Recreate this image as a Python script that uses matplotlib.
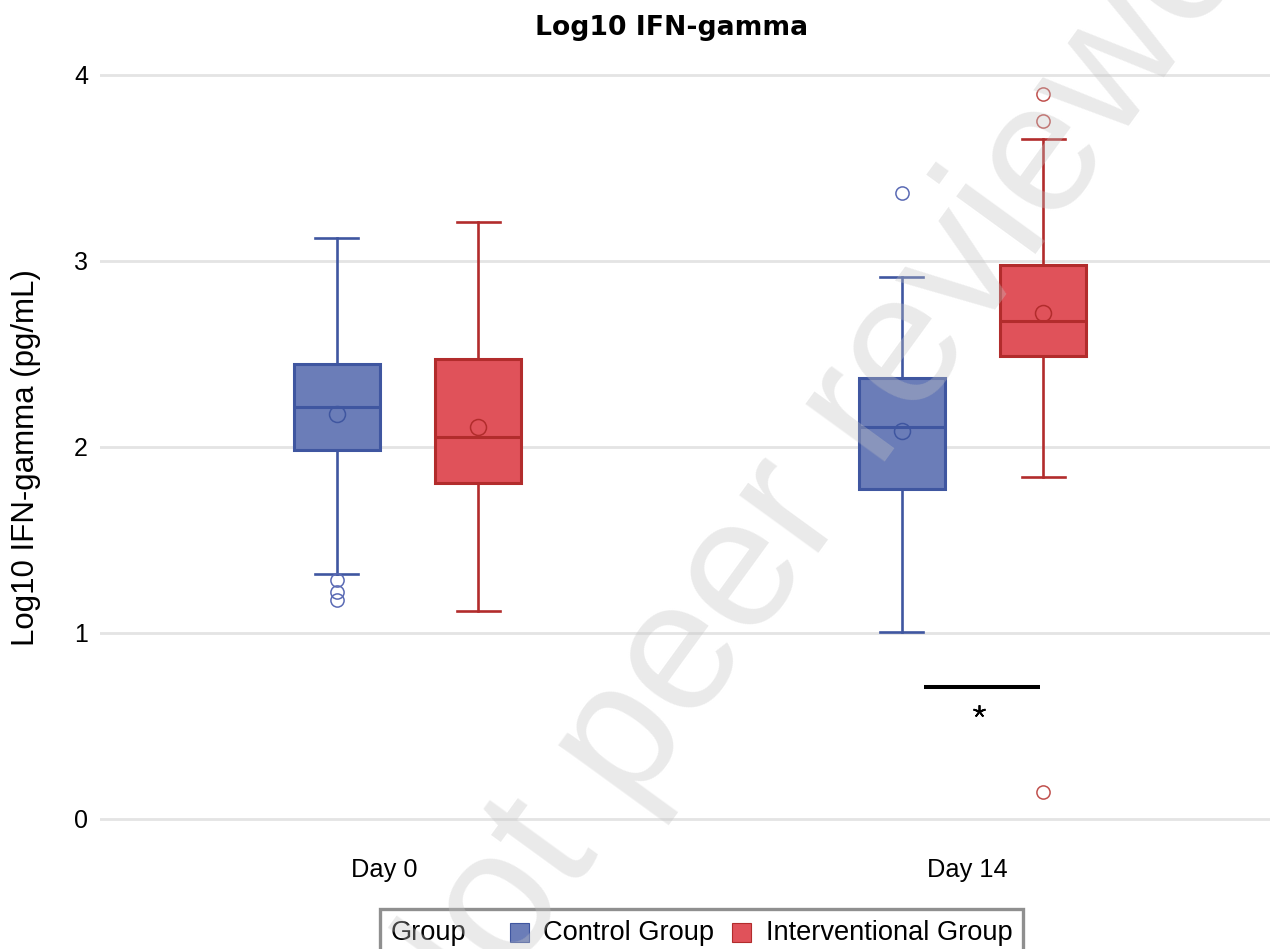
import matplotlib
matplotlib.use('Agg')
import matplotlib.pyplot as plt
from matplotlib.patches import Rectangle
from matplotlib.offsetbox import AnchoredOffsetbox, HPacker, TextArea, DrawingArea

# Box statistics, ordered Day 0 (control, interventional), Day 14 (control, interventional)
days = ['Day 0', 'Day 14']
groups = ['Control Group', 'Interventional Group']
whislo = [1.317, 1.119, 1.006, 1.839]
q1 = [1.984, 1.806, 1.776, 2.487]
med = [2.215, 2.054, 2.110, 2.677]
q3 = [2.446, 2.474, 2.371, 2.981]
whishi = [3.124, 3.210, 2.913, 3.654]
means = [2.180, 2.109, 2.087, 2.718]
fliers = [[1.285, 1.220, 1.177], [], [3.364], [3.899, 3.755, 0.145]]

# significance bar under the Day 14 pair
sig_x = [0.915, 1.12]
sig_y = 0.71
star_x = 1.012
star_y = 0.58

fills = ['#6b7db8', '#e0525a']
edges = ['#3f56a0', '#b22c2c']
flier_cols = ['#5a6ab4', '#c0504d']

plt.rcParams['font.family'] = ['Liberation Sans', 'DejaVu Sans']

fig = plt.figure(figsize=(12.7, 9.49), dpi=100)
ax = fig.add_axes([100 / 1270, 1 - 837.6 / 949, 1 - 100 / 1270, (837.6 - 47.1) / 949])

offset = 0.125
positions = []
for i in range(len(days)):
    positions += [i - offset, i + offset]

for k in range(4):
    g = k % 2
    stats = [dict(whislo=whislo[k], q1=q1[k], med=med[k], q3=q3[k],
                  whishi=whishi[k], mean=means[k], fliers=fliers[k])]
    ax.bxp(stats, positions=[positions[k]], widths=0.152, capwidths=0.076,
           patch_artist=True, showmeans=True, manage_ticks=False,
           boxprops=dict(facecolor=fills[g], edgecolor=edges[g], linewidth=2.2),
           whiskerprops=dict(color=edges[g], linewidth=1.9),
           capprops=dict(color=edges[g], linewidth=1.9),
           medianprops=dict(color=edges[g], linewidth=2.2),
           meanprops=dict(marker='o', markerfacecolor='none', markeredgecolor=edges[g],
                          markersize=11.5, markeredgewidth=1.1),
           flierprops=dict(marker='o', markerfacecolor='none', markeredgecolor=flier_cols[g],
                           markersize=9.5, markeredgewidth=1.1))

ax.plot(sig_x, [sig_y, sig_y], color='black', linewidth=2.9, solid_capstyle='butt')
ax.plot(star_x, star_y, marker=(5, 2, 0), color='black', markersize=9, markeredgewidth=1.3)

ax.set_xlim(-0.5442, 1.5265)
ax.set_ylim(-0.1, 4.15)
# category labels sit a little left of the pair centres
ax.set_xticks([-0.042, 0.99])
ax.set_xticklabels(days)
ax.set_yticks([0, 1, 2, 3, 4])
ax.tick_params(axis='x', length=0, pad=15, labelsize=18.3)
ax.tick_params(axis='y', length=0, pad=8.6, labelsize=18)
ax.yaxis.grid(True, color='#e4e4e4', linewidth=2.0)
ax.set_axisbelow(True)
for s in ax.spines.values():
    s.set_visible(False)

fig.text(672 / 1270, 1 - 28 / 949, 'Log10 IFN-gamma', ha='center', va='center',
         fontsize=19.2, fontweight='bold', family='DejaVu Sans')
fig.text(26 / 1270, 1 - 458 / 949, 'Log10 IFN-gamma (pg/mL)', ha='center', va='center',
         rotation=90, fontsize=22.5)

# legend: "Group" caption followed by the two swatches
entries = []
for name, fc, ec in zip(groups, fills, edges):
    da = DrawingArea(13.7, 13.7)
    da.add_artist(Rectangle((0, 0), 13.7, 13.7, facecolor=fc, edgecolor=ec, linewidth=0.8))
    entries.append(HPacker(children=[da, TextArea(name, textprops=dict(size=19.6))],
                           sep=10.5, align='center'))
swatches = HPacker(children=entries, sep=13, align='center')
leg_box = HPacker(children=[TextArea('Group', textprops=dict(size=19.6)), swatches],
                  sep=31, align='center')
leg = AnchoredOffsetbox(loc='upper left', child=leg_box, pad=0.4, borderpad=0,
                        bbox_to_anchor=(380 / 1270, 1 - 909 / 949),
                        bbox_transform=fig.transFigure, frameon=True, prop=dict(size=19.6))
leg.patch.set_edgecolor('#8f8f8f')
leg.patch.set_linewidth(2.4)
fig.add_artist(leg)

# watermark across the page
fig.text(872 / 1270, 1 - 480 / 949, 'Not peer reviewed', ha='center', va='baseline',
         rotation=54, rotation_mode='anchor', fontsize=133, color='#c4c4c4', alpha=0.35,
         zorder=10)

fig.savefig('out.png', dpi=100)
